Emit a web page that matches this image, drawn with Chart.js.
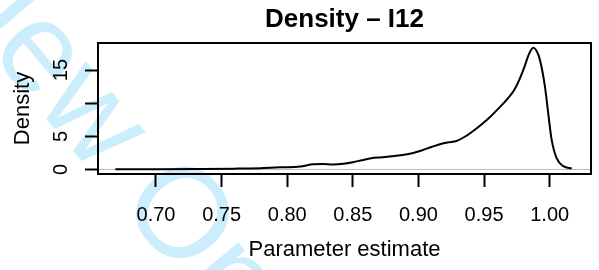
<!DOCTYPE html>
<html>
<head>
<meta charset="utf-8">
<script src="https://cdn.jsdelivr.net/npm/chart.js@4"></script>
<style>
  html, body { margin: 0; padding: 0; background: #fff; }
  #wrap { width: 599px; height: 270px; }
</style>
</head>
<body>
<div id="wrap"><canvas id="densityChart" width="599" height="270"></canvas></div>
<script>
// density curve
const estimates = [0.669, 0.70, 0.73, 0.76, 0.78, 0.795, 0.81, 0.82, 0.827, 0.835, 0.843, 0.85,
  0.857, 0.864, 0.872, 0.88, 0.888, 0.896, 0.903, 0.91, 0.917, 0.923, 0.929, 0.935, 0.941,
  0.948, 0.955, 0.962, 0.968, 0.973, 0.977, 0.981, 0.984, 0.9875, 0.990, 0.9926, 0.9964,
  0.9989, 1.0015, 1.0053, 1.0104, 1.0168];
const density = [0.03, 0.05, 0.08, 0.13, 0.2, 0.32, 0.45, 0.8, 0.82, 0.76, 0.88, 1.1,
  1.4, 1.7, 1.85, 2.0, 2.2, 2.5, 2.9, 3.4, 3.85, 4.1, 4.3, 4.9, 5.7,
  6.8, 8.0, 9.4, 10.7, 12.0, 13.6, 15.6, 17.3, 18.35, 17.9, 16.5, 12.5,
  8.5, 4.5, 1.7, 0.5, 0.15];

const xTicks = [0.70, 0.75, 0.80, 0.85, 0.90, 0.95, 1.00];
const xTickLabels = ['0.70', '0.75', '0.80', '0.85', '0.90', '0.95', '1.00'];
const yTicks = [0, 5, 10, 15];
const yTickLabels = ['0', '5', '', '15']; // R drops the 10 label (no room)

const chartTitle = 'Density – I12';
const xTitle = 'Parameter estimate';
const yTitle = 'Density';
const watermark = 'Review Only';

const family = '"Liberation Sans", Arial, Helvetica, sans-serif';

const watermarkPlugin = {
    id: 'watermark',
    beforeDraw(chart) {
        const c = chart.ctx;
        c.save();
        c.fillStyle = 'rgb(204, 238, 252)';
        c.font = '128px ' + family;
        c.translate(-176, -146);
        c.rotate(50 * Math.PI / 180);
        c.textBaseline = 'alphabetic';
        c.fillText(watermark, 0, 0);
        c.restore();
    }
};

const rFramePlugin = {
    id: 'rFrame',
    beforeDatasetsDraw(chart) {
        // grey zero line like plot.density
        const c = chart.ctx;
        const area = chart.chartArea;
        const y0 = chart.scales.y.getPixelForValue(0);
        c.save();
        c.strokeStyle = '#bebebe';
        c.lineWidth = 1;
        c.beginPath();
        c.moveTo(area.left, y0);
        c.lineTo(area.right, y0);
        c.stroke();
        c.restore();
    },
    afterDraw(chart) {
        const c = chart.ctx;
        const area = chart.chartArea;
        c.save();
        c.strokeStyle = '#000';
        c.lineWidth = 2;
        c.strokeRect(area.left, area.top, area.right - area.left, area.bottom - area.top);

        c.fillStyle = '#000';
        c.font = 'bold 26px ' + family;
        c.textAlign = 'center';
        c.textBaseline = 'alphabetic';
        c.fillText(chartTitle, (area.left + area.right) / 2, 27);

        c.font = '20px ' + family;
        yTicks.forEach((v, i) => {
            const py = chart.scales.y.getPixelForValue(v);
            c.save();
            c.translate(66.5, py);
            c.rotate(-Math.PI / 2);
            c.fillText(yTickLabels[i], 0, 0);
            c.restore();
        });
        c.restore();
    }
};

const tickGrid = {
    drawOnChartArea: false,
    drawTicks: true,
    tickLength: 13,
    tickWidth: 2,
    tickColor: '#000'
};

new Chart(document.getElementById('densityChart'), {
    type: 'line',
    data: {
        datasets: [{
            data: estimates.map((x, i) => ({ x: x, y: density[i] })),
            borderColor: '#000',
            borderWidth: 2,
            pointRadius: 0,
            fill: false,
            cubicInterpolationMode: 'monotone'
        }]
    },
    options: {
        responsive: false,
        animation: false,
        layout: { padding: { top: 43, right: 8, left: 0, bottom: 0 } },
        plugins: {
            legend: { display: false },
            tooltip: { enabled: false },
            title: { display: false }
        },
        scales: {
            x: {
                type: 'linear',
                min: 0.6558,
                max: 1.0315,
                afterBuildTicks: (s) => { s.ticks = xTicks.map(v => ({ value: v })); },
                afterFit: (s) => { s.height = 96; },
                grid: tickGrid,
                border: { display: false },
                ticks: {
                    color: '#000',
                    font: { family: family, size: 20 },
                    padding: 16,
                    maxRotation: 0,
                    autoSkip: false,
                    callback: (v, i) => xTickLabels[i]
                },
                title: {
                    display: true,
                    text: xTitle,
                    color: '#000',
                    font: { family: family, size: 22 },
                    padding: { top: 0, bottom: 7 }
                }
            },
            y: {
                type: 'linear',
                min: -0.68,
                max: 19.08,
                afterBuildTicks: (s) => { s.ticks = yTicks.map(v => ({ value: v })); },
                afterFit: (s) => { s.width = 98; },
                grid: tickGrid,
                border: { display: false },
                ticks: { display: false },
                title: {
                    display: true,
                    text: yTitle,
                    color: '#000',
                    font: { family: family, size: 22 },
                    padding: { top: 10, bottom: 0 }
                }
            }
        }
    },
    plugins: [watermarkPlugin, rFramePlugin]
});
</script>
</body>
</html>
